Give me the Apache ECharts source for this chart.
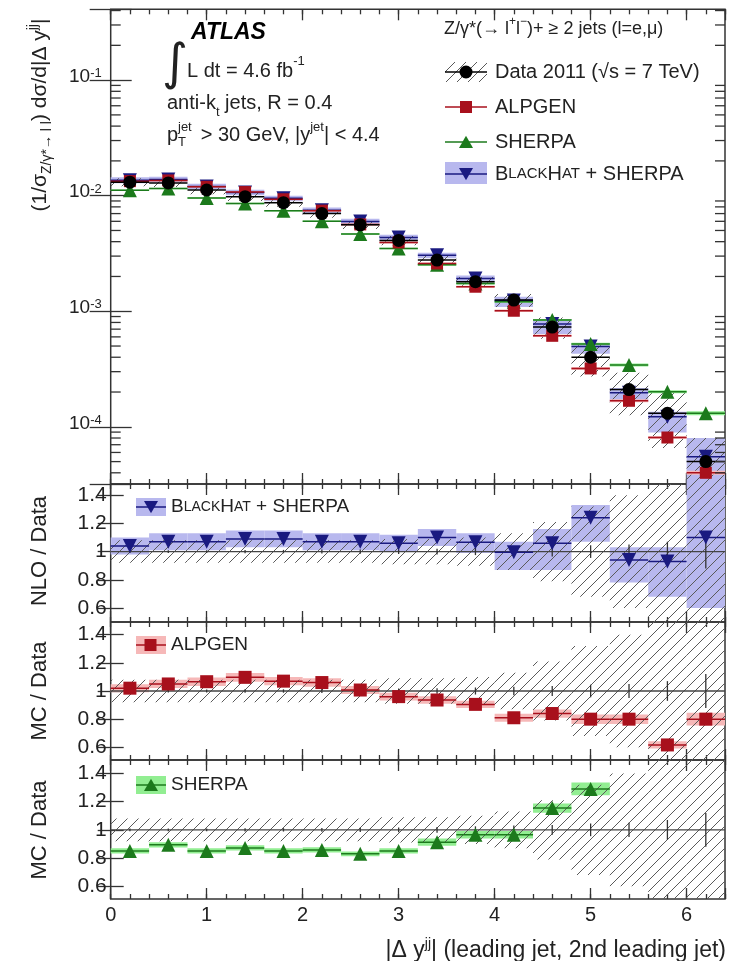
<!DOCTYPE html>
<html><head><meta charset="utf-8">
<script src="https://cdn.jsdelivr.net/npm/echarts@6/dist/echarts.min.js"></script>
<style>html,body{margin:0;padding:0;background:#fff}#c{width:731px;height:961px}</style>
</head><body><div id="c"></div>
<script>
// ---------------- data ----------------
const binCenters   = [0.2,0.6,1.0,1.4,1.8,2.2,2.6,3.0,3.4,3.8,4.2,4.6,5.0,5.4,5.8,6.2];
const binHalfWidth = 0.2;
const xMin = 0, xMax = 6.4;

const dataValues   = [0.0131,0.0129,0.0112,0.0098,0.0087,0.0070,0.0056,0.0041,0.00277,0.0018,0.00125,0.00073,0.00040,0.00021,0.000131,0.000050];
const dataSystRel  = [0.08,0.08,0.08,0.08,0.08,0.08,0.08,0.09,0.09,0.10,0.13,0.21,0.32,0.40,0.50,0.60];
const dataStatRel  = [0.01,0.01,0.01,0.012,0.012,0.014,0.015,0.017,0.02,0.025,0.03,0.035,0.045,0.05,0.07,0.12];

const alpgenValues  = [0.01336,0.01355,0.01194,0.01075,0.00931,0.00742,0.00564,0.00394,0.00259,0.00163,0.00101,0.000613,0.00032,0.000168,0.0000808,0.00004];
const alpgenStatRel = [0.02,0.02,0.02,0.02,0.02,0.02,0.02,0.02,0.02,0.02,0.025,0.025,0.03,0.03,0.03,0.04];
const sherpaValues  = [0.01115,0.01153,0.00953,0.00855,0.0074,0.006,0.00465,0.00349,0.00253,0.00174,0.00121,0.00084,0.00052,0.000343,0.000201,0.000131];
const sherpaStatRel = [0.015,0.015,0.015,0.015,0.015,0.015,0.015,0.015,0.02,0.02,0.02,0.02,0.025,0.03,0.03,0.04];
const blackhatValues= [0.01362,0.0138,0.01198,0.01068,0.00948,0.00749,0.00599,0.00435,0.00305,0.00192,0.00124,0.000774,0.000496,0.000197,0.000122,0.000055];

const nloRatio      = [1.04,1.07,1.07,1.09,1.09,1.07,1.07,1.06,1.10,1.066,0.995,1.06,1.24,0.94,0.93,1.10];
const nloBandLo     = [0.98,1.01,1.01,1.03,1.03,1.01,1.01,1.00,1.04,0.99,0.87,0.87,1.07,0.78,0.68,0.60];
const nloBandHi     = [1.10,1.13,1.13,1.15,1.15,1.13,1.13,1.12,1.16,1.13,1.07,1.16,1.33,1.03,1.03,1.60];
const alpgenRatio   = [1.02,1.05,1.066,1.097,1.07,1.06,1.007,0.96,0.936,0.905,0.81,0.84,0.80,0.80,0.617,0.80];
const sherpaRatio   = [0.851,0.894,0.851,0.872,0.851,0.858,0.83,0.851,0.913,0.965,0.965,1.154,1.29,null,null,null];

const logMajorExp   = [-4,-3,-2,-1];
const logMinorTicks = [4e-5,5e-5,6e-5,7e-5,8e-5,9e-5,
  2e-4,3e-4,4e-4,5e-4,6e-4,7e-4,8e-4,9e-4,
  2e-3,3e-3,4e-3,5e-3,6e-3,7e-3,8e-3,9e-3,
  2e-2,3e-2,4e-2,5e-2,6e-2,7e-2,8e-2,9e-2,
  0.2,0.3,0.4];
const ratioTicks    = [0.6,0.8,1.0,1.2,1.4];
const unity = 1;

// ---------------- style ----------------
const FONT = '"Liberation Sans", Arial, Helvetica, sans-serif';
const TXT = '#222';
const C_DATA = '#000000';
const C_ALP = '#a8101c', C_ALP_BAND = '#f6b8b8';
const C_SHE = '#1c7a1c', C_SHE_BAND = '#92ee92';
const C_BH  = '#1a1a80', C_BH_BAND  = '#b8b8ee';
const FRAME = '#333';

const hatchCanvas = (function(){
  const s = 11, cv = document.createElement('canvas');
  cv.width = s; cv.height = s;
  const g = cv.getContext('2d');
  g.strokeStyle = '#5a5a5a'; g.lineWidth = 1;
  g.beginPath();
  for (const o of [-s, 0, s]) { g.moveTo(o - 1, s + 1); g.lineTo(o + s + 1, -1); }
  g.stroke();
  return cv;
})();
const hatchFill = { image: hatchCanvas, repeat: 'repeat' };

const chart = echarts.init(document.getElementById('c'), null, { renderer: 'canvas' });

const GL = 110.7, GW = 614.3;
const gridDefs = [
  { top: 9.3, height: 474.7 },
  { top: 484, height: 138 },
  { top: 622, height: 138 },
  { top: 760, height: 139 }
];
const ratioRanges = [null, [0.50, 1.48], [0.51, 1.49], [0.51, 1.495]];

const grid = gridDefs.map(d => ({
  left: GL, width: GW, top: d.top, height: d.height,
  show: true, borderColor: FRAME, borderWidth: 1.5, backgroundColor: 'rgba(0,0,0,0)'
}));

const tickLine = { color: FRAME, width: 1.3 };
const xAxis = [];
for (let g = 0; g < 4; g++) {
  for (const pos of ['bottom', 'top']) {
    xAxis.push({
      gridIndex: g, type: 'value', min: xMin, max: xMax, interval: 1, position: pos,
      axisLine: { show: false }, splitLine: { show: false },
      axisTick: { inside: true, length: 11, lineStyle: tickLine },
      axisLabel: {
        show: g === 3 && pos === 'bottom', margin: 6,
        fontSize: 20, fontFamily: FONT, color: TXT,
        formatter: v => (Math.abs(v - Math.round(v)) < 1e-9 ? String(Math.round(v)) : '')
      }
    });
    xAxis.push({
      gridIndex: g, type: 'value', min: xMin, max: xMax, interval: 0.2, position: pos,
      axisLine: { show: false }, splitLine: { show: false },
      axisTick: { inside: true, length: 5, lineStyle: tickLine },
      axisLabel: { show: false }
    });
  }
}
const XI = g => g * 4;

const logFmt = v => {
  const l = Math.log10(v), e = Math.round(l);
  if (Math.abs(l - e) > 1e-6 || logMajorExp.indexOf(e) < 0) return '';
  return '{b|10}{s|' + e + '}';
};
const logRich = {
  b: { fontSize: 19, fontFamily: FONT, color: TXT, lineHeight: 26, verticalAlign: 'top' },
  s: { fontSize: 13, fontFamily: FONT, color: TXT, lineHeight: 13, verticalAlign: 'top' }
};

const yAxis = [];
for (let g = 0; g < 4; g++) {
  for (const pos of ['left', 'right']) {
    if (g === 0) {
      yAxis.push({
        gridIndex: 0, type: 'log', logBase: 10, min: 3.2e-5, max: 0.41, position: pos,
        axisLine: { show: false }, splitLine: { show: false }, minorTick: { show: false },
        axisTick: { inside: true, length: 21, lineStyle: tickLine },
        axisLabel: { show: pos === 'left', margin: 9, formatter: logFmt, rich: logRich }
      });
    } else {
      yAxis.push({
        gridIndex: g, type: 'value', min: ratioRanges[g][0], max: ratioRanges[g][1], position: pos,
        axisLine: { show: false }, splitLine: { show: false },
        axisTick: { inside: true, length: 13, lineStyle: tickLine, customValues: ratioTicks },
        axisLabel: {
          show: pos === 'left', margin: 4, customValues: ratioTicks,
          fontSize: 21, fontFamily: FONT, color: TXT,
          formatter: v => String(+(+v).toFixed(1))
        }
      });
    }
  }
}
const YI = g => g * 2;

// ---------------- series helpers ----------------
function rectSeries(g, rows, style, z) {
  return {
    type: 'custom', xAxisIndex: XI(g), yAxisIndex: YI(g), clip: true, z: z, silent: true,
    data: rows,
    renderItem(params, api) {
      const c = api.value(0), lo = api.value(1), hi = api.value(2);
      const p1 = api.coord([c - binHalfWidth, hi]);
      const p2 = api.coord([c + binHalfWidth, lo]);
      const cs = params.coordSys;
      const r = echarts.graphic.clipRectByRect(
        { x: p1[0], y: p1[1], width: p2[0] - p1[0], height: p2[1] - p1[1] },
        { x: cs.x, y: cs.y, width: cs.width, height: cs.height });
      if (!r) return null;
      return { type: 'rect', shape: r, style: style };
    }
  };
}
function hlineSeries(g, rows, color, width, z) {
  return {
    type: 'custom', xAxisIndex: XI(g), yAxisIndex: YI(g), clip: true, z: z, silent: true,
    data: rows,
    renderItem(params, api) {
      const c = api.value(0), v = api.value(1);
      const p1 = api.coord([c - binHalfWidth, v]);
      const p2 = api.coord([c + binHalfWidth, v]);
      return { type: 'line', shape: { x1: p1[0], y1: p1[1], x2: p2[0], y2: p2[1] },
        style: { stroke: color, lineWidth: width } };
    }
  };
}
function vlineSeries(g, rows, color, width, z) {
  return {
    type: 'custom', xAxisIndex: XI(g), yAxisIndex: YI(g), clip: true, z: z, silent: true,
    data: rows,
    renderItem(params, api) {
      const c = api.value(0);
      const p1 = api.coord([c, api.value(1)]);
      const p2 = api.coord([c, api.value(2)]);
      return { type: 'line', shape: { x1: p1[0], y1: p1[1], x2: p2[0], y2: p2[1] },
        style: { stroke: color, lineWidth: width } };
    }
  };
}
function markerSeries(g, rows, symbol, size, color, rotate, z) {
  return {
    type: 'scatter', xAxisIndex: XI(g), yAxisIndex: YI(g), clip: true, z: z, silent: true,
    data: rows, symbol: symbol, symbolSize: size, symbolRotate: rotate || 0,
    itemStyle: { color: color, opacity: 1 }
  };
}
function unitySeries(g) {
  return {
    type: 'custom', xAxisIndex: XI(g), yAxisIndex: YI(g), clip: true, z: 6, silent: true,
    data: [[xMin, unity]],
    renderItem(params, api) {
      const p1 = api.coord([xMin, api.value(1)]);
      const p2 = api.coord([xMax, api.value(1)]);
      return { type: 'line', shape: { x1: p1[0], y1: p1[1], x2: p2[0], y2: p2[1] },
        style: { stroke: '#444', lineWidth: 1.4 } };
    }
  };
}
const logMinorSeries = {
  type: 'custom', xAxisIndex: 0, yAxisIndex: 0, clip: false, z: 7, silent: true,
  data: logMinorTicks.map(v => [xMin, v]),
  renderItem(params, api) {
    const y = api.coord([xMin, api.value(1)])[1];
    const cs = params.coordSys;
    return { type: 'group', children: [
      { type: 'line', shape: { x1: cs.x, y1: y, x2: cs.x + 10, y2: y }, style: { stroke: FRAME, lineWidth: 1.3 } },
      { type: 'line', shape: { x1: cs.x + cs.width - 10, y1: y, x2: cs.x + cs.width, y2: y }, style: { stroke: FRAME, lineWidth: 1.3 } }
    ] };
  }
};

const idx = binCenters.map((c, i) => i);
const rowsV = vals => idx.filter(i => vals[i] != null).map(i => [binCenters[i], vals[i]]);

const series = [];
// ---- main panel ----
series.push(rectSeries(0, idx.map(i => [binCenters[i], dataValues[i] * nloBandLo[i], dataValues[i] * nloBandHi[i]]), { fill: C_BH_BAND }, 1));
series.push(rectSeries(0, idx.map(i => [binCenters[i], dataValues[i] * (1 - dataSystRel[i]), dataValues[i] * (1 + dataSystRel[i])]), { fill: hatchFill }, 2));
series.push(rectSeries(0, idx.map(i => [binCenters[i], alpgenValues[i] * (1 - alpgenStatRel[i]), alpgenValues[i] * (1 + alpgenStatRel[i])]), { fill: C_ALP_BAND }, 2));
series.push(rectSeries(0, idx.map(i => [binCenters[i], sherpaValues[i] * (1 - sherpaStatRel[i]), sherpaValues[i] * (1 + sherpaStatRel[i])]), { fill: C_SHE_BAND }, 2));
series.push(hlineSeries(0, rowsV(blackhatValues), C_BH, 1.5, 3));
series.push(hlineSeries(0, rowsV(sherpaValues), C_SHE, 1.5, 3));
series.push(hlineSeries(0, rowsV(alpgenValues), C_ALP, 1.5, 3));
series.push(hlineSeries(0, rowsV(dataValues), C_DATA, 1.5, 3));
series.push(vlineSeries(0, idx.map(i => [binCenters[i], dataValues[i] * (1 - dataStatRel[i]), dataValues[i] * (1 + dataStatRel[i])]), C_DATA, 1.5, 3));
series.push(markerSeries(0, rowsV(blackhatValues), 'triangle', 14, C_BH, 180, 4));
series.push(markerSeries(0, rowsV(sherpaValues), 'triangle', 14, C_SHE, 0, 4));
series.push(markerSeries(0, rowsV(alpgenValues), 'rect', 12, C_ALP, 0, 4));
series.push(markerSeries(0, rowsV(dataValues), 'circle', 13, C_DATA, 0, 5));
series.push(logMinorSeries);

// ---- ratio panels ----
function ratioPanel(g, ratio, bandLo, bandHi, bandColor, color, symbol, rot, size) {
  series.push(rectSeries(g, idx.filter(i => bandLo[i] != null).map(i => [binCenters[i], bandLo[i], bandHi[i]]), { fill: bandColor }, 1));
  series.push(rectSeries(g, idx.map(i => [binCenters[i], 1 - dataSystRel[i], 1 + dataSystRel[i]]), { fill: hatchFill }, 2));
  series.push(unitySeries(g));
  series.push(vlineSeries(g, idx.map(i => [binCenters[i], 1 - dataStatRel[i], 1 + dataStatRel[i]]), '#333', 1.3, 6));
  series.push(hlineSeries(g, rowsV(ratio), color, 1.5, 7));
  series.push(markerSeries(g, rowsV(ratio), symbol, size, color, rot, 8));
}
ratioPanel(1, nloRatio, nloBandLo, nloBandHi, C_BH_BAND, C_BH, 'triangle', 180, 14);
ratioPanel(2, alpgenRatio,
  idx.map(i => alpgenRatio[i] - alpgenRatio[i] * alpgenStatRel[i] * 1.4),
  idx.map(i => alpgenRatio[i] + alpgenRatio[i] * alpgenStatRel[i] * 1.4),
  C_ALP_BAND, C_ALP, 'rect', 0, 13);
ratioPanel(3, sherpaRatio,
  idx.map(i => sherpaRatio[i] == null ? null : sherpaRatio[i] * (1 - sherpaStatRel[i] * 1.4)),
  idx.map(i => sherpaRatio[i] == null ? null : sherpaRatio[i] * (1 + sherpaStatRel[i] * 1.4)),
  C_SHE_BAND, C_SHE, 'triangle', 0, 14);

// ---------------- text / legends ----------------
const t = (x, y, text, size, extra) => Object.assign({
  type: 'text', x: x, y: y, z: 50,
  style: Object.assign({ text: text, font: size + 'px ' + FONT, fill: TXT, verticalAlign: 'middle' }, (extra && extra.style) || {})
}, extra ? { rotation: extra.rotation || 0 } : {});
const R = (size, extra) => Object.assign({ fontSize: size, fontFamily: FONT, fill: TXT }, extra || {});

const smallCaps = (big, small) => ({ cap: R(big), sc: R(small) });
const bhText = '{cap|B}{sc|LACK}{cap|H}{sc|AT}{cap| + SHERPA}';

const tri = (cx, cy, s, down, color) => ({
  type: 'polygon', z: 52,
  shape: { points: down ? [[cx - s, cy - s * 0.85], [cx + s, cy - s * 0.85], [cx, cy + s * 0.9]]
                        : [[cx - s, cy + s * 0.85], [cx + s, cy + s * 0.85], [cx, cy - s * 0.9]] },
  style: { fill: color }
});
const hl = (x1, x2, y, color) => ({ type: 'line', z: 51, shape: { x1: x1, y1: y, x2: x2, y2: y }, style: { stroke: color, lineWidth: 1.5 } });
const box = (x, y, w, h, fill) => ({ type: 'rect', z: 50, shape: { x: x, y: y, width: w, height: h }, style: { fill: fill } });

const graphic = [
  // ATLAS block
  t(191, 33, 'ATLAS', 23, { style: { font: 'italic bold 23px ' + FONT, fill: '#000' } }),
  t(162, 66, '∫', 50, { style: { font: '50px "DejaVu Sans", sans-serif' } }),
  t(187, 68, '{n|L dt = 4.6 fb}{s|-1}', 20, { style: { rich: {
    n: R(20, { lineHeight: 26, verticalAlign: 'bottom' }),
    s: R(13, { lineHeight: 13, verticalAlign: 'top' }) } } }),
  t(167, 106, '{n|anti-k}{b|t}{n| jets, R = 0.4}', 20, { style: { rich: {
    n: R(20, { lineHeight: 26, verticalAlign: 'top' }),
    b: R(13, { lineHeight: 13, verticalAlign: 'bottom' }) } } }),
  t(167, 135, '{n|p}{b|T}{n| > 30 GeV, |y}{s|jet}{n|| < 4.4}', 20, { style: { rich: {
    n: R(20, { lineHeight: 28 }),
    b: R(13, { lineHeight: 13, verticalAlign: 'bottom', width: 17 }),
    s: R(13, { lineHeight: 13, verticalAlign: 'top' }) } } }),
  t(178, 127, 'jet', 13),

  // main legend
  t(444, 27, '{n|Z/γ*(→ l}{s|+}{n|l}{s|−}{n|)+ ≥ 2 jets (l=e,μ)}', 18, { style: { rich: {
    n: R(18, { lineHeight: 22, verticalAlign: 'bottom' }),
    s: R(12, { lineHeight: 12, verticalAlign: 'top' }) } } }),
  { type: 'rect', z: 50, shape: { x: 445, y: 62, width: 42, height: 20 }, style: { fill: hatchFill } },
  hl(445, 487, 72, C_DATA),
  { type: 'circle', z: 52, shape: { cx: 466, cy: 72, r: 6.5 }, style: { fill: C_DATA } },
  t(495, 72, 'Data 2011 (√s = 7 TeV)', 20),
  hl(445, 487, 107, C_ALP),
  { type: 'rect', z: 52, shape: { x: 460, y: 101, width: 12, height: 12 }, style: { fill: C_ALP } },
  t(495, 107, 'ALPGEN', 20),
  hl(445, 487, 142, C_SHE),
  tri(466, 142, 7, false, C_SHE),
  t(495, 142, 'SHERPA', 20),
  box(445, 162, 42, 22, C_BH_BAND),
  hl(445, 487, 174, C_BH),
  tri(466, 174, 7, true, C_BH),
  t(495, 174, bhText, 20, { style: { rich: smallCaps(20, 15) } }),

  // ratio legends
  box(136, 498, 30, 18, C_BH_BAND), hl(136, 166, 507, C_BH), tri(151, 507, 7, true, C_BH),
  t(171, 507, bhText, 19, { style: { rich: smallCaps(19, 14) } }),
  box(136, 636, 30, 18, C_ALP_BAND), hl(136, 166, 645, C_ALP),
  { type: 'rect', z: 52, shape: { x: 144.5, y: 639, width: 12, height: 12 }, style: { fill: C_ALP } },
  t(171, 645, 'ALPGEN', 19),
  box(136, 776, 30, 18, C_SHE_BAND), hl(136, 166, 785, C_SHE), tri(151, 785, 7, false, C_SHE),
  t(171, 785, 'SHERPA', 19),

  // axis titles
  t(40, 115, '{n|(1/σ}{b|Z/γ*→ l l}{n|) dσ/d|Δ y}{s|jj}{n||}', 21, { rotation: Math.PI / 2, style: { align: 'center', rich: {
    n: R(21, { lineHeight: 28 }),
    b: R(14, { lineHeight: 14, verticalAlign: 'bottom' }),
    s: R(14, { lineHeight: 14, verticalAlign: 'top' }) } } }),
  t(40, 551, 'NLO / Data', 22, { rotation: Math.PI / 2, style: { align: 'center' } }),
  t(40, 691, 'MC / Data', 22, { rotation: Math.PI / 2, style: { align: 'center' } }),
  t(40, 830, 'MC / Data', 22, { rotation: Math.PI / 2, style: { align: 'center' } }),
  t(726, 951, '{n||Δ y}{s|jj}{n|| (leading jet, 2nd leading jet)}', 23, { style: { align: 'right', rich: {
    n: R(23, { lineHeight: 28 }),
    s: R(14, { lineHeight: 14, verticalAlign: 'top' }) } } })
];

chart.setOption({
  animation: false,
  backgroundColor: '#ffffff',
  textStyle: { fontFamily: FONT },
  grid: grid, xAxis: xAxis, yAxis: yAxis, series: series, graphic: graphic
});
</script>
</body></html>
